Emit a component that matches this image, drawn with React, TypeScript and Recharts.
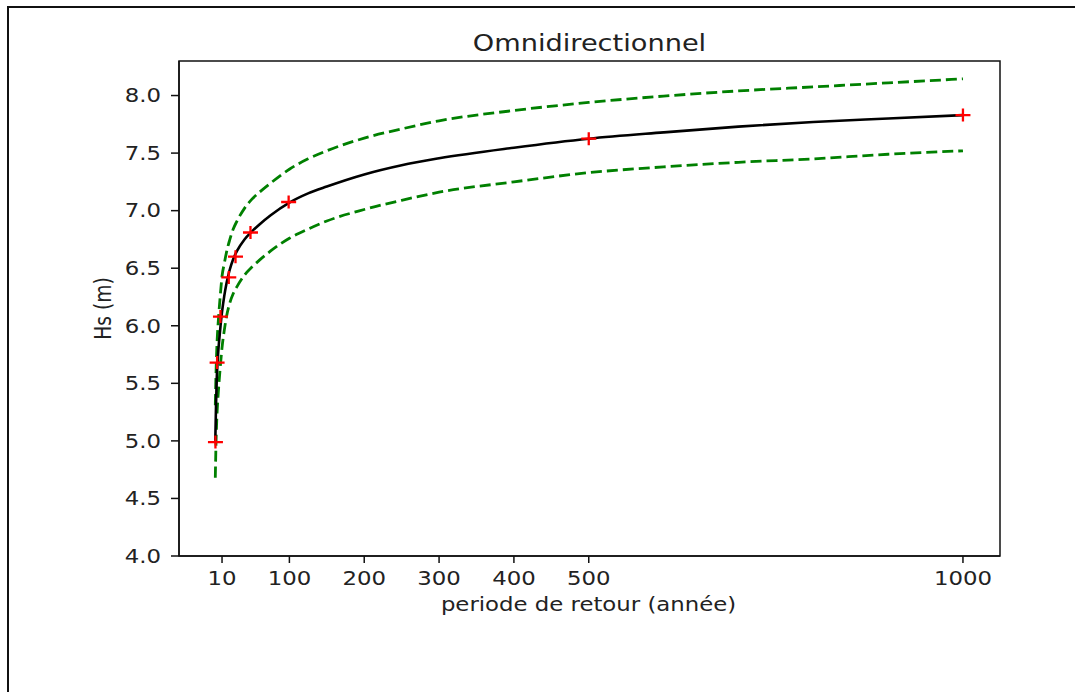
import { ComposedChart, Line, Scatter, XAxis, YAxis, ReferenceArea } from "recharts";

// return periods (years) at which the fitted curve and its bounds were read
const RETURN_PERIODS = [1, 2, 3, 4, 5, 6, 8, 10, 13, 16, 20, 25, 30, 40, 50, 60, 75, 100, 125, 150, 200, 250, 300, 400, 500, 600, 700, 800, 900, 1000];
const HS_FIT = [5.0, 5.32, 5.55, 5.68, 5.78, 5.86, 6.0, 6.12, 6.26, 6.37, 6.48, 6.58, 6.65, 6.75, 6.82, 6.88, 6.96, 7.07, 7.15, 7.21, 7.315, 7.395, 7.455, 7.547, 7.625, 7.68, 7.73, 7.77, 7.8, 7.83];
const HS_UPPER = [5.31, 5.6, 5.8, 5.94, 6.04, 6.13, 6.29, 6.43, 6.54, 6.64, 6.74, 6.84, 6.91, 7.02, 7.1, 7.16, 7.24, 7.36, 7.45, 7.52, 7.63, 7.71, 7.78, 7.87, 7.94, 7.995, 8.04, 8.075, 8.11, 8.145];
const HS_LOWER = [4.68, 4.99, 5.19, 5.32, 5.42, 5.51, 5.67, 5.81, 5.96, 6.08, 6.19, 6.28, 6.34, 6.44, 6.51, 6.57, 6.65, 6.76, 6.84, 6.91, 7.01, 7.09, 7.16, 7.25, 7.33, 7.38, 7.42, 7.45, 7.49, 7.52];

// empirical points (red crosses)
const OBS_T = [1.2, 3.4, 7.9, 19, 28, 48, 99, 500, 1000];
const OBS_HS = [4.99, 5.68, 6.08, 6.42, 6.6, 6.81, 7.075, 7.625, 7.83];

const X_TICKS = [10, 100, 200, 300, 400, 500, 1000];
const Y_TICKS = [4.0, 4.5, 5.0, 5.5, 6.0, 6.5, 7.0, 7.5, 8.0];
const X_DOMAIN: [number, number] = [-47.5, 1049.5];
const Y_DOMAIN: [number, number] = [4, 8.3];

const fit = RETURN_PERIODS.map((x, i) => ({ x, y: HS_FIT[i] }));
const upper = RETURN_PERIODS.map((x, i) => ({ x, y: HS_UPPER[i] }));
const lower = RETURN_PERIODS.map((x, i) => ({ x, y: HS_LOWER[i] }));
const obs = OBS_T.map((x, i) => ({ x, y: OBS_HS[i] }));

const FONT = "'DejaVu Sans', sans-serif";
const TXT = "#222";
const SX = 1.22; // source image is stretched horizontally

// eslint-disable-next-line @typescript-eslint/no-explicit-any
const YTick = ({ x, y, payload }: any) => (
  <g transform={`translate(${x},${y}) scale(${SX},1)`}>
    <text textAnchor="end" dy="0.36em" fontSize={18.7} fontFamily={FONT} fill={TXT}>
      {Number(payload.value).toFixed(1)}
    </text>
  </g>
);

// eslint-disable-next-line @typescript-eslint/no-explicit-any
const XTick = ({ x, y, payload }: any) => (
  <g transform={`translate(${x},${y}) scale(${SX},1)`}>
    <text textAnchor="middle" dy="0.73em" fontSize={18.7} fontFamily={FONT} fill={TXT}>
      {payload.value}
    </text>
  </g>
);

// eslint-disable-next-line @typescript-eslint/no-explicit-any
const Cross = ({ cx, cy }: any) => (
  <path d={`M${cx - 7.5},${cy}H${cx + 7.5}M${cx},${cy - 6.5}V${cy + 6.5}`} stroke="#ff0000" strokeWidth={2.3} fill="none" />
);

export default function App() {
  return (
    <div style={{ position: "absolute", left: 0, top: 0, width: 1075, height: 692, background: "#fff" }}>
      <ComposedChart width={1075} height={692} margin={{ top: 61, right: 75, bottom: 96, left: 0 }}>
        <XAxis
          type="number"
          dataKey="x"
          domain={X_DOMAIN}
          allowDataOverflow
          ticks={X_TICKS}
          interval={0}
          height={40}
          tick={<XTick />}
          tickSize={7}
          tickMargin={8}
          axisLine={{ stroke: "#111", strokeWidth: 1.5 }}
          tickLine={{ stroke: "#111", strokeWidth: 1.5 }}
        />
        <YAxis
          type="number"
          dataKey="y"
          domain={Y_DOMAIN}
          allowDataOverflow
          ticks={Y_TICKS}
          interval={0}
          width={179}
          tick={<YTick />}
          tickSize={8}
          tickMargin={10}
          axisLine={{ stroke: "#111", strokeWidth: 1.5 }}
          tickLine={{ stroke: "#111", strokeWidth: 1.5 }}
        />
        <ReferenceArea x1={X_DOMAIN[0]} x2={X_DOMAIN[1]} y1={Y_DOMAIN[0]} y2={Y_DOMAIN[1]} fill="none" stroke="#111" strokeWidth={1.5} />
        <Line data={upper} dataKey="y" type="monotone" stroke="#008000" strokeWidth={2.8} strokeDasharray="11 5" dot={false} isAnimationActive={false} />
        <Line data={lower} dataKey="y" type="monotone" stroke="#008000" strokeWidth={2.8} strokeDasharray="11 5" dot={false} isAnimationActive={false} />
        <Line data={fit} dataKey="y" type="monotone" stroke="#000" strokeWidth={2.6} dot={false} isAnimationActive={false} />
        <Scatter data={obs} dataKey="y" shape={<Cross />} isAnimationActive={false} />
      </ComposedChart>
      <svg width={1075} height={692} style={{ position: "absolute", left: 0, top: 0, pointerEvents: "none" }}>
        <path d="M8,692V7H1075" stroke="#111" strokeWidth={2} fill="none" />
        <text transform={`translate(589.5,51) scale(${SX},1)`} textAnchor="middle" fontSize={22.3} fontFamily={FONT} fill={TXT}>
          Omnidirectionnel
        </text>
        <text transform={`translate(588.5,611) scale(${SX},1)`} textAnchor="middle" fontSize={18.7} fontFamily={FONT} fill={TXT}>
          periode de retour (année)
        </text>
        <text transform={`translate(111,308.5) scale(${SX},1) rotate(-90)`} textAnchor="middle" fontSize={18.7} fontFamily={FONT} fill={TXT}>
          Hs (m)
        </text>
      </svg>
    </div>
  );
}
